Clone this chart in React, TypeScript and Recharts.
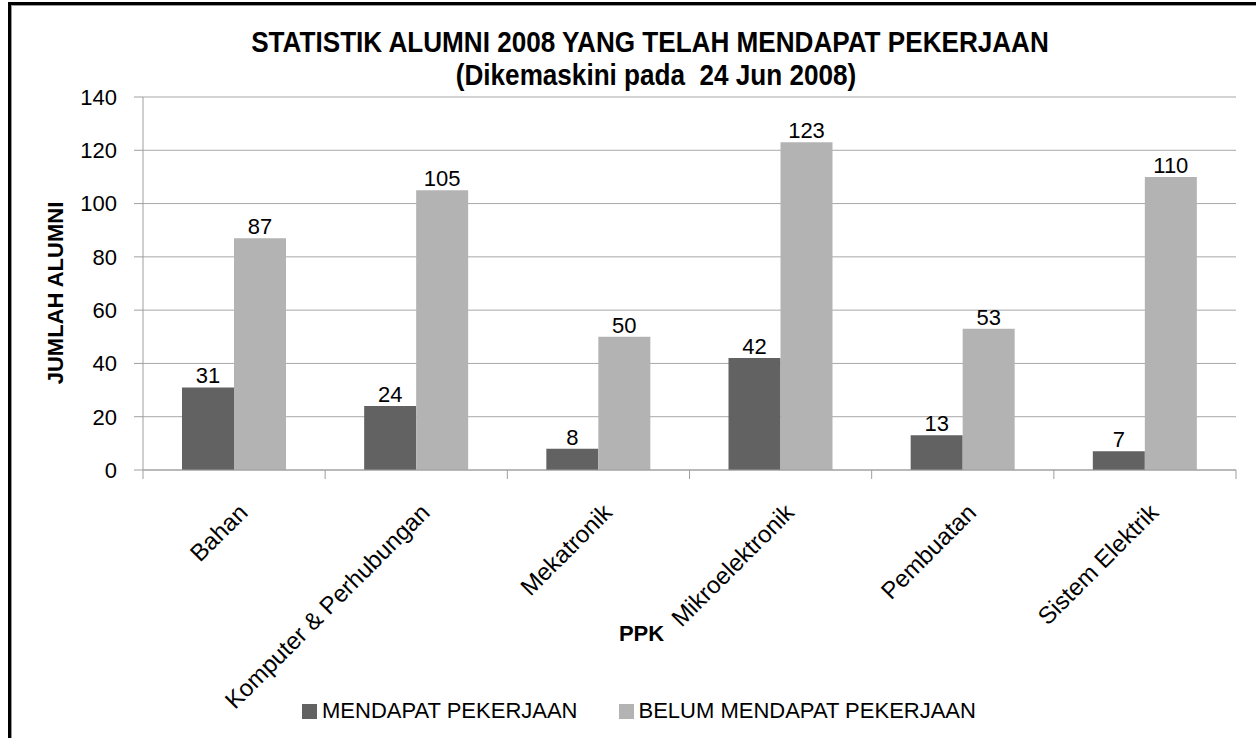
import React from 'react';
import { BarChart, Bar, XAxis, YAxis, CartesianGrid, Legend, LabelList } from 'recharts';

const categories = [
  'Bahan',
  'Komputer & Perhubungan',
  'Mekatronik',
  'Mikroelektronik',
  'Pembuatan',
  'Sistem Elektrik',
];
const mendapat = [31, 24, 8, 42, 13, 7];
const belum = [87, 105, 50, 123, 53, 110];
const yTicks = [0, 20, 40, 60, 80, 100, 120, 140];
const seriesNames = ['MENDAPAT PEKERJAAN', 'BELUM MENDAPAT PEKERJAAN'];

const data = categories.map((ppk, i) => ({
  ppk,
  mendapat: mendapat[i],
  belum: belum[i],
}));

const FONT = '"Liberation Sans", Arial, sans-serif';
const AXIS = '#9f9f9f';
const DARK = '#626262';
const LIGHT = '#b3b3b3';

const CategoryTick = (props: any) => {
  const { x, y, payload, index } = props;
  const half = payload && payload.offset ? payload.offset : 91;
  const last = index === categories.length - 1;
  return (
    <g>
      <line x1={x - half} y1={y} x2={x - half} y2={y + 9} stroke={AXIS} />
      {last && <line x1={x + half} y1={y} x2={x + half} y2={y + 9} stroke={AXIS} />}
      <text
        transform={`translate(${x + 15},${y + 44}) rotate(-45)`}
        textAnchor="end"
        fontSize={24}
        fontFamily={FONT}
        fill="#000"
      >
        {payload.value}
      </text>
    </g>
  );
};

const renderLegend = (props: any) => {
  const items = [...(props.payload || [])].sort(
    (a: any, b: any) => seriesNames.indexOf(a.value) - seriesNames.indexOf(b.value)
  );
  return (
    <div style={{ display: 'flex', alignItems: 'center', height: 30, fontFamily: FONT, fontSize: 22 }}>
      {items.map((p: any, i: number) => (
        <div key={p.value} style={{ display: 'flex', alignItems: 'center', marginLeft: i > 0 ? 41 : 0 }}>
          <span style={{ width: 15, height: 15, background: p.color, display: 'inline-block', marginRight: 5 }} />
          <span style={{ color: '#000', whiteSpace: 'nowrap' }}>{p.value}</span>
        </div>
      ))}
    </div>
  );
};

const titleStyle: React.CSSProperties = {
  position: 'absolute',
  width: 1000,
  textAlign: 'center',
  fontFamily: FONT,
  fontWeight: 'bold',
  fontSize: 29,
  lineHeight: '29px',
  transform: 'scaleX(0.9)',
  whiteSpace: 'pre',
};

export default function App() {
  return (
    <div style={{ position: 'absolute', left: 0, top: 0, width: 1256, height: 738, background: '#fff', overflow: 'hidden' }}>
      <div style={{ position: 'absolute', left: 8, top: 2, width: 1260, height: 750, borderTop: '3px solid #000', borderLeft: '3px solid #000' }} />
      <div style={{ position: 'absolute', left: 11, top: 5, width: 1260, height: 750, borderTop: '1px solid #999', borderLeft: '1px solid #999' }} />
      <div style={{ ...titleStyle, left: 150, top: 28 }}>
        STATISTIK ALUMNI 2008 YANG TELAH MENDAPAT PEKERJAAN
      </div>
      <div style={{ ...titleStyle, left: 156, top: 61 }}>
        (Dikemaskini pada  24 Jun 2008)
      </div>
      <div style={{ position: 'absolute', left: 0, top: 0 }}>
        <BarChart
          width={1256}
          height={738}
          data={data}
          margin={{ top: 97, right: 20, left: 0, bottom: 12 }}
          barCategoryGap={39}
          barGap={0}
        >
          <CartesianGrid vertical={false} stroke="#a8a8a8" />
          <XAxis
            dataKey="ppk"
            height={226}
            interval={0}
            stroke={AXIS}
            tickLine={false}
            tickSize={0}
            tickMargin={0}
            tick={<CategoryTick />}
            label={{
              value: 'PPK',
              position: 'insideBottom',
              offset: 55,
              dx: -48,
              fill: '#000',
              fontSize: 22,
              fontWeight: 'bold',
              fontFamily: FONT,
            }}
          />
          <YAxis
            width={143}
            domain={[0, 140]}
            ticks={yTicks}
            interval={0}
            stroke={AXIS}
            tickSize={9}
            tickMargin={17}
            tick={{ fill: '#000', fontSize: 22, fontFamily: FONT }}
            label={{
              value: 'JUMLAH ALUMNI',
              angle: -90,
              position: 'center',
              dx: -16.5,
              dy: 9.5,
              fill: '#000',
              fontSize: 22,
              fontWeight: 'bold',
              fontFamily: FONT,
            }}
          />
          <Legend
            content={renderLegend}
            wrapperStyle={{ left: 302, top: 696, height: 30 }}
          />
          <Bar dataKey="mendapat" name={seriesNames[0]} fill={DARK} isAnimationActive={false}>
            <LabelList dataKey="mendapat" position="top" offset={4} fill="#000" fontSize={22} fontFamily={FONT} />
          </Bar>
          <Bar dataKey="belum" name={seriesNames[1]} fill={LIGHT} isAnimationActive={false}>
            <LabelList dataKey="belum" position="top" offset={4} fill="#000" fontSize={22} fontFamily={FONT} />
          </Bar>
        </BarChart>
      </div>
    </div>
  );
}
